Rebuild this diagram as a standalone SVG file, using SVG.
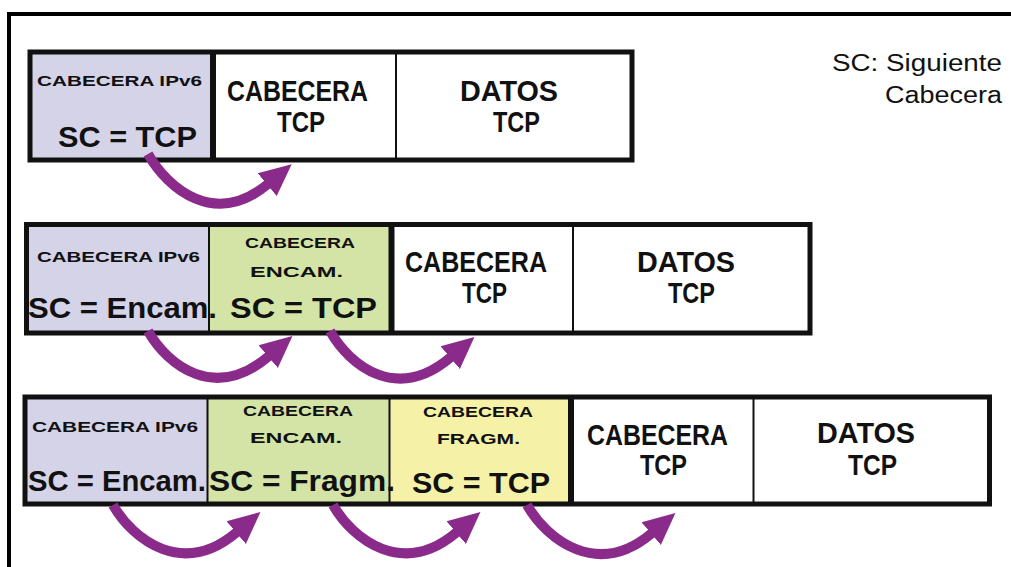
<svg xmlns="http://www.w3.org/2000/svg" width="1011" height="567" viewBox="0 0 1011 567">
<style>
.bg{fill:#ffffff}
.frame{stroke:#000;stroke-width:4;fill:none}
.box{fill:none;stroke:#111;stroke-width:5}
.thin{stroke:#111;stroke-width:2}
.thick{stroke:#111;stroke-width:6}
.ipv6{fill:#d5d3e8}
.encam{fill:#d3e4a6}
.fragm{fill:#f5f1a6}
.white{fill:#ffffff}
text{font-family:"Liberation Sans",Arial,sans-serif;font-weight:bold;fill:#111}
.s{font-size:15.5px}
.b{font-size:30px}
.leg{font-size:23px;font-weight:normal}
.arr{fill:none;stroke:#8a2b8c;stroke-width:10}
</style>
<defs>
<marker id="head" markerUnits="userSpaceOnUse" markerWidth="34" markerHeight="34" viewBox="0 -16 32 32" refX="1" refY="0" orient="auto">
<path d="M0,-14 L30,0 L0,14 Z" fill="#8a2b8c"/>
</marker>
</defs>
<rect class="bg" x="0" y="0" width="1011" height="567"/>
<path class="frame" d="M9,567 V14 H1011"/>

<g id="legend">
<text class="leg" x="1002" y="71" text-anchor="end" textLength="170" lengthAdjust="spacingAndGlyphs">SC: Siguiente</text>
<text class="leg" x="1002" y="103" text-anchor="end" textLength="117" lengthAdjust="spacingAndGlyphs">Cabecera</text>
</g>

<!-- Row 1 -->
<g id="row1">
<g id="r1-datos">
<rect class="white" x="396" y="52" width="236" height="108"/>
<text class="b" x="460" y="101" textLength="98" lengthAdjust="spacingAndGlyphs">DATOS</text>
<text class="b" x="493" y="132" textLength="47" lengthAdjust="spacingAndGlyphs">TCP</text>
</g>
<g id="r1-tcp">
<rect class="white" x="213" y="52" width="183" height="108"/>
<text class="b" x="227" y="101" textLength="141" lengthAdjust="spacingAndGlyphs">CABECERA</text>
<text class="b" x="277" y="132" textLength="48" lengthAdjust="spacingAndGlyphs">TCP</text>
</g>
<g id="r1-ipv6">
<rect class="ipv6" x="30" y="52" width="183" height="108"/>
<text class="s" x="37" y="86" textLength="165" lengthAdjust="spacingAndGlyphs">CABECERA IPv6</text>
<text class="b" x="58" y="147" textLength="139" lengthAdjust="spacingAndGlyphs">SC = TCP</text>
</g>
<line class="thick" x1="213" y1="52" x2="213" y2="160"/>
<line class="thin" x1="396" y1="52" x2="396" y2="160"/>
<rect class="box" x="30" y="52" width="602" height="108"/>
</g>

<!-- Row 2 -->
<g id="row2">
<g id="r2-datos">
<rect class="white" x="573" y="224.5" width="237" height="108.5"/>
<text class="b" x="637" y="272" textLength="98" lengthAdjust="spacingAndGlyphs">DATOS</text>
<text class="b" x="668" y="303" textLength="47" lengthAdjust="spacingAndGlyphs">TCP</text>
</g>
<g id="r2-tcp">
<rect class="white" x="391.5" y="224.5" width="181.5" height="108.5"/>
<text class="b" x="405" y="272" textLength="142" lengthAdjust="spacingAndGlyphs">CABECERA</text>
<text class="b" x="462" y="303" textLength="45" lengthAdjust="spacingAndGlyphs">TCP</text>
</g>
<g id="r2-encam">
<rect class="encam" x="209" y="224.5" width="182.5" height="108.5"/>
<text class="s" x="245" y="248" textLength="110" lengthAdjust="spacingAndGlyphs">CABECERA</text>
<text class="s" x="250" y="277" textLength="93" lengthAdjust="spacingAndGlyphs">ENCAM.</text>
<text class="b" x="230" y="318" font-size="29" textLength="147" lengthAdjust="spacingAndGlyphs">SC = TCP</text>
</g>
<g id="r2-ipv6">
<rect class="ipv6" x="26.5" y="224.5" width="182.5" height="108.5"/>
<text class="s" x="37" y="262" textLength="163" lengthAdjust="spacingAndGlyphs">CABECERA IPv6</text>
<text class="b" x="28" y="318" font-size="29" textLength="189" lengthAdjust="spacingAndGlyphs">SC = Encam.</text>
</g>
<line class="thin" x1="209" y1="224.5" x2="209" y2="333"/>
<line class="thick" x1="391.5" y1="224.5" x2="391.5" y2="333"/>
<line class="thin" x1="573" y1="224.5" x2="573" y2="333"/>
<rect class="box" x="26.5" y="224.5" width="783.5" height="108.5"/>
</g>

<!-- Row 3 -->
<g id="row3">
<g id="r3-datos">
<rect class="white" x="753.5" y="397" width="236" height="107"/>
<text class="b" x="817" y="443" textLength="98" lengthAdjust="spacingAndGlyphs">DATOS</text>
<text class="b" x="848" y="475" textLength="49" lengthAdjust="spacingAndGlyphs">TCP</text>
</g>
<g id="r3-tcp">
<rect class="white" x="571" y="397" width="182.5" height="107"/>
<text class="b" x="587" y="445" textLength="141" lengthAdjust="spacingAndGlyphs">CABECERA</text>
<text class="b" x="640" y="475" textLength="47" lengthAdjust="spacingAndGlyphs">TCP</text>
</g>
<g id="r3-fragm">
<rect class="fragm" x="389.5" y="397" width="181.5" height="107"/>
<text class="s" x="423" y="417" textLength="110" lengthAdjust="spacingAndGlyphs">CABECERA</text>
<text class="s" x="437" y="444" textLength="83" lengthAdjust="spacingAndGlyphs">FRAGM.</text>
<text class="b" x="412" y="493" font-size="30" textLength="138" lengthAdjust="spacingAndGlyphs">SC = TCP</text>
</g>
<g id="r3-encam">
<rect class="encam" x="207.5" y="397" width="182" height="107"/>
<text class="s" x="243" y="416" textLength="110" lengthAdjust="spacingAndGlyphs">CABECERA</text>
<text class="s" x="250" y="443" textLength="92" lengthAdjust="spacingAndGlyphs">ENCAM.</text>
<text class="b" x="209" y="491" font-size="30" textLength="186" lengthAdjust="spacingAndGlyphs">SC = Fragm.</text>
</g>
<g id="r3-ipv6">
<rect class="ipv6" x="25" y="397" width="182.5" height="107"/>
<text class="s" x="32" y="432" textLength="166" lengthAdjust="spacingAndGlyphs">CABECERA IPv6</text>
<text class="b" x="28" y="491" font-size="30" textLength="178" lengthAdjust="spacingAndGlyphs">SC = Encam.</text>
</g>
<line class="thin" x1="207.5" y1="397" x2="207.5" y2="504"/>
<line class="thin" x1="389.5" y1="397" x2="389.5" y2="504"/>
<line class="thick" x1="571" y1="397" x2="571" y2="504"/>
<line class="thin" x1="753.5" y1="397" x2="753.5" y2="504"/>
<rect class="box" x="25" y="397" width="964.5" height="107"/>
</g>

<g id="connectors">
<path class="arr" marker-end="url(#head)" d="M148,154 C168,189 215,228 268,184"/>
<path class="arr" marker-end="url(#head)" d="M148,331 C168,366 215,402 269,356"/>
<path class="arr" marker-end="url(#head)" d="M330,331 C350,366 397,403 451,357"/>
<path class="arr" marker-end="url(#head)" d="M113,505 C133,540 183,578 237,532"/>
<path class="arr" marker-end="url(#head)" d="M333,505 C353,540 403,578 457,532"/>
<path class="arr" marker-end="url(#head)" d="M527,505 C547,540 598,579 652,533"/>
</g>
</svg>
